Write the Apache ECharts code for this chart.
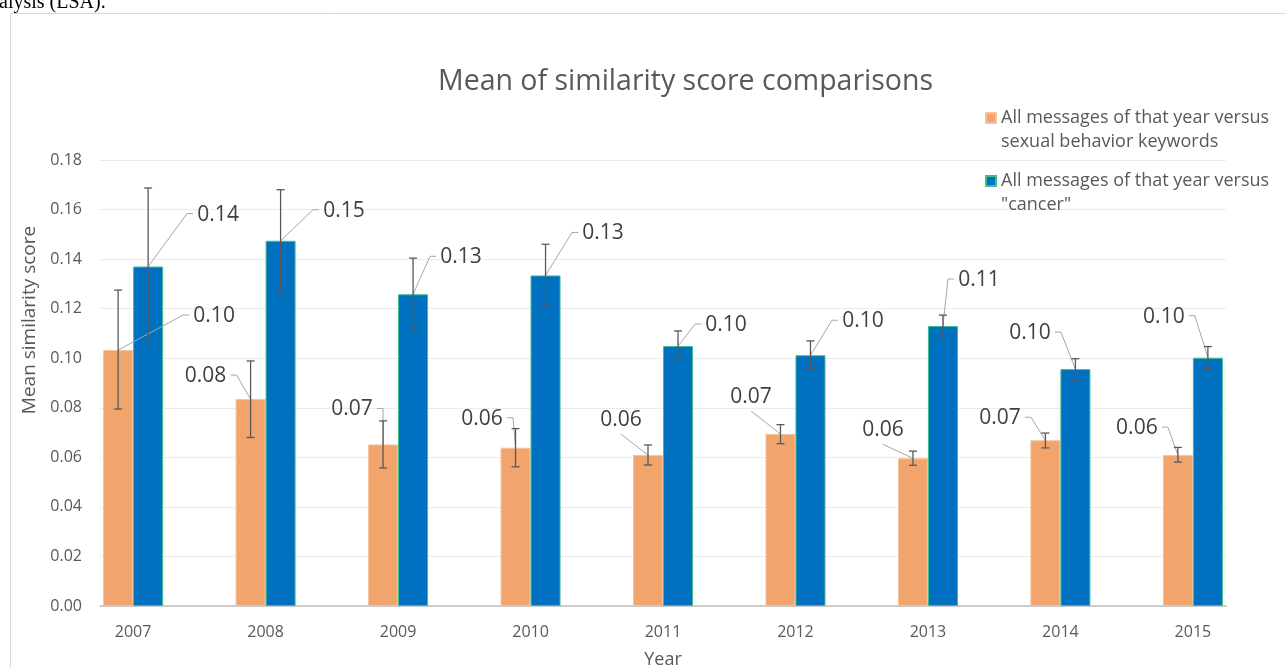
<!DOCTYPE html>
<html>
<head>
<meta charset="utf-8">
<script src="https://cdn.jsdelivr.net/npm/echarts@6/dist/echarts.min.js"></script>
<style>
  html, body { margin: 0; padding: 0; background: #fff; }
  #chart { width: 1286px; height: 668px; }
</style>
</head>
<body>
<div id="chart"></div>
<script>
// values
const YEARS = [2007, 2008, 2009, 2010, 2011, 2012, 2013, 2014, 2015]
const SEXUAL = [0.1033, 0.0835, 0.0652, 0.0639, 0.0609, 0.0694, 0.0596, 0.0669, 0.0609]
const SEXUAL_LO = [0.0795, 0.068, 0.0557, 0.0562, 0.0569, 0.0655, 0.0568, 0.0638, 0.0581]
const SEXUAL_HI = [0.1275, 0.0989, 0.0747, 0.0716, 0.065, 0.0732, 0.0625, 0.0698, 0.064]
const CANCER = [0.137, 0.1474, 0.1258, 0.1334, 0.1049, 0.1012, 0.113, 0.0956, 0.1002]
const CANCER_LO = [0.106, 0.126, 0.1114, 0.1208, 0.0988, 0.0959, 0.1084, 0.0912, 0.0959]
const CANCER_HI = [0.1687, 0.168, 0.1404, 0.146, 0.111, 0.107, 0.1174, 0.0998, 0.1047]

const NAME_A = 'All messages of that year versus\nsexual behavior keywords'
const NAME_B = 'All messages of that year versus\n"cancer"'

// data label placement relative to bar top: [dx, dy, side of leader line]
const POS_A = [[96, -34, 'r'], [-45, -23, 'l'], [-31, -35, 'l'], [-33.5, -29, 'l'], [-27, -35, 'b'],
  [-29.5, -37, 'b'], [-30, -28, 'b'], [-45.5, -22, 'l'], [-41, -27, 'l']]
const POS_B = [[70, -52, 'r'], [63.5, -30, 'r'], [48, -37, 'r'], [57.5, -42, 'r'], [48, -21, 'r'],
  [52.5, -34, 'r'], [36, -46, 'r'], [-45.5, -36, 'l'], [-44, -41, 'l']]

const ORANGE = '#F1A46C'
const BLUE = '#0070C0'
const TXT = '#595959'
const FONT = '"Open Sans", sans-serif'
const BAR_W = 30

function errAndLabel(shift, lo, hi, pos) {
  return function (params, api) {
    const i = params.dataIndex
    const p = api.coord([api.value(0), api.value(1)])
    const cx = p[0] + shift
    const top = p[1]
    const yHi = api.coord([api.value(0), hi[i]])[1]
    const yLo = api.coord([api.value(0), lo[i]])[1]
    const [dx, dy, side] = pos[i]
    const tx = cx + dx, ty = top + dy
    const hw = 21
    let pts
    if (side === 'r') pts = [[cx, top], [tx - hw - 10, ty - 1], [tx - hw - 4, ty - 1]]
    else if (side === 'l') pts = [[tx + hw + 4, ty - 1], [tx + hw + 10, ty - 1], [cx, top]]
    else pts = [[tx, ty + 14], [cx, top]]
    const err = { stroke: '#595959', lineWidth: 1.3 }
    return {
      type: 'group',
      children: [
        { type: 'polyline', shape: { points: pts }, style: { stroke: '#A6A6A6', lineWidth: 1, fill: null } },
        { type: 'line', shape: { x1: cx, y1: yHi, x2: cx, y2: yLo }, style: err },
        { type: 'line', shape: { x1: cx - 4, y1: yHi, x2: cx + 4, y2: yHi }, style: err },
        { type: 'line', shape: { x1: cx - 4, y1: yLo, x2: cx + 4, y2: yLo }, style: err },
        {
          type: 'text',
          style: {
            text: api.value(1).toFixed(2), x: tx, y: ty,
            align: 'center', verticalAlign: 'middle',
            font: '21px ' + FONT, fill: '#404040',
          },
        },
      ],
    }
  }
}

const chart = echarts.init(document.getElementById('chart'))
chart.setOption({
  animation: false,
  backgroundColor: '#fff',
  textStyle: { fontFamily: FONT },
  graphic: [
    { type: 'rect', shape: { x: 10.5, y: 13.5, width: 1290, height: 670 }, style: { fill: null, stroke: '#D9D9D9', lineWidth: 1 }, silent: true },
    { type: 'text', x: -1, y: 13, style: { text: 'alysis (LSA).', font: '20px "Liberation Serif", serif', fill: '#000', verticalAlign: 'bottom' }, silent: true },
  ],
  title: {
    text: 'Mean of similarity score comparisons',
    left: 438, top: 67, padding: 0,
    textStyle: { fontFamily: FONT, fontSize: 28.5, fontWeight: 'normal', color: TXT },
  },
  legend: {
    data: [NAME_A, NAME_B],
    orient: 'vertical',
    left: 985, top: 106, padding: 0,
    itemWidth: 10, itemHeight: 34, itemGap: 15,
    icon: 'path://M0,0H10V10H0Z M0,34',
    textStyle: { fontFamily: FONT, fontSize: 18, lineHeight: 24, color: TXT },
  },
  grid: { left: 100, right: 60, top: 160, bottom: 62, outerBoundsMode: 'none' },
  xAxis: {
    type: 'value',
    min: 2006.75, max: 2015.25,
    name: 'Year', nameLocation: 'middle', nameGap: 45,
    nameTextStyle: { fontFamily: FONT, fontSize: 18, color: TXT },
    axisLine: { show: true, lineStyle: { color: '#BFBFBF', width: 1.5 } },
    axisTick: { show: false },
    splitLine: { show: false },
    axisLabel: { customValues: YEARS, color: TXT, fontSize: 16, margin: 18, formatter: (v) => String(v) },
  },
  yAxis: {
    type: 'value',
    min: 0, max: 0.18, interval: 0.02,
    name: 'Mean similarity score', nameLocation: 'middle', nameGap: 56,
    nameTextStyle: { fontFamily: FONT, fontSize: 19, color: TXT, padding: [0, 0, 0, 126] },
    axisLine: { show: false }, axisTick: { show: false },
    axisLabel: { color: TXT, fontSize: 16, margin: 18, formatter: (v) => v.toFixed(2) },
    splitLine: { lineStyle: { color: '#EBEBEB', width: 1 } },
  },
  series: [
    {
      name: NAME_A, type: 'bar', barWidth: BAR_W, barGap: '0%',
      data: YEARS.map((y, i) => [y, SEXUAL[i]]),
      itemStyle: { color: ORANGE, borderColor: '#F6C29C', borderWidth: 1 },
    },
    {
      name: NAME_B, type: 'bar', barWidth: BAR_W, barGap: '0%',
      data: YEARS.map((y, i) => [y, CANCER[i]]),
      itemStyle: { color: BLUE, borderColor: '#3DBE8C', borderWidth: 1 },
    },
    {
      name: 'errA', type: 'custom', z: 5,
      data: YEARS.map((y, i) => [y, SEXUAL[i]]),
      renderItem: errAndLabel(-BAR_W / 2, SEXUAL_LO, SEXUAL_HI, POS_A),
    },
    {
      name: 'errB', type: 'custom', z: 5,
      data: YEARS.map((y, i) => [y, CANCER[i]]),
      renderItem: errAndLabel(BAR_W / 2, CANCER_LO, CANCER_HI, POS_B),
    },
  ],
})
</script>
</body>
</html>
